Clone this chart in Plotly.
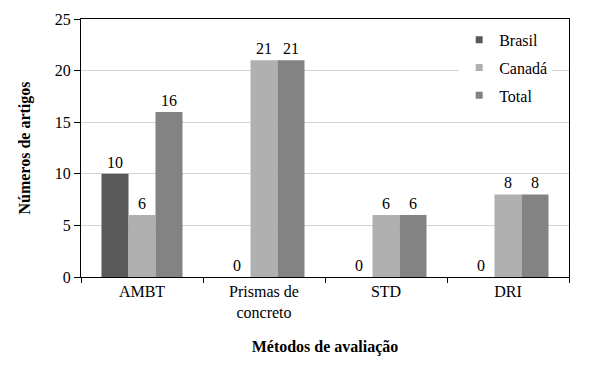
import plotly.graph_objects as go

categories = ["AMBT", "Prismas de<br>concreto", "STD", "DRI"]
brasil = [10, 0, 0, 0]
canada = [6, 21, 6, 8]
total = [16, 21, 6, 8]
series_names = ["Brasil", "Canadá", "Total"]
colors = ["#595959", "#b0b0b0", "#838383"]

font_family = "Liberation Serif, Times New Roman, serif"
fs = 16

fig = go.Figure()
for i, (name, vals) in enumerate(zip(series_names, [brasil, canada, total])):
    fig.add_trace(go.Bar(
        x=categories, y=vals, name=name,
        marker=dict(color=colors[i], line=dict(width=0)),
        text=[str(v) for v in vals], textposition="outside",
        textfont=dict(family=font_family, size=fs, color="#000"),
        cliponaxis=False, showlegend=False, hoverinfo="skip",
    ))
# legend entries with small square markers
for i, name in enumerate(series_names):
    fig.add_trace(go.Scatter(
        x=[None], y=[None], mode="markers", name=name,
        marker=dict(symbol="square", size=7, color=colors[i]),
        legendgroup=name, showlegend=True,
    ))

fig.update_layout(
    width=593, height=374,
    margin=dict(l=81, r=24, t=19, b=97),
    paper_bgcolor="white", plot_bgcolor="white",
    font=dict(family=font_family, size=fs, color="#000"),
    barmode="group", bargap=0.336, bargroupgap=0,
    showlegend=True,
    legend=dict(x=0.775, y=0.985, xanchor="left", yanchor="top",
                bgcolor="white", font=dict(size=fs, family=font_family),
                traceorder="grouped", tracegroupgap=4, itemwidth=30),
    xaxis=dict(showline=True, linecolor="#000", linewidth=1, mirror=True,
               ticks="outside", tickson="boundaries", ticklen=5, tickcolor="#000",
               automargin=False,
               title=dict(text="<b>Métodos de avaliação</b>", standoff=20,
                          font=dict(size=fs, family=font_family))),
    yaxis=dict(range=[0, 25], dtick=5, showline=True, linecolor="#000", linewidth=1,
               mirror=True, ticks="outside", ticklen=6, tickcolor="#000",
               ticklabelstandoff=0,
               automargin=False,
               showgrid=True, gridcolor="#d4d4d4", gridwidth=1,
               zeroline=False,
               title=dict(text="<b>Números de artigos</b>", standoff=20,
                          font=dict(size=fs, family=font_family))),
)

fig.write_html("out.html", config={"displayModeBar": False},
               post_script="document.body.style.margin='0';")
